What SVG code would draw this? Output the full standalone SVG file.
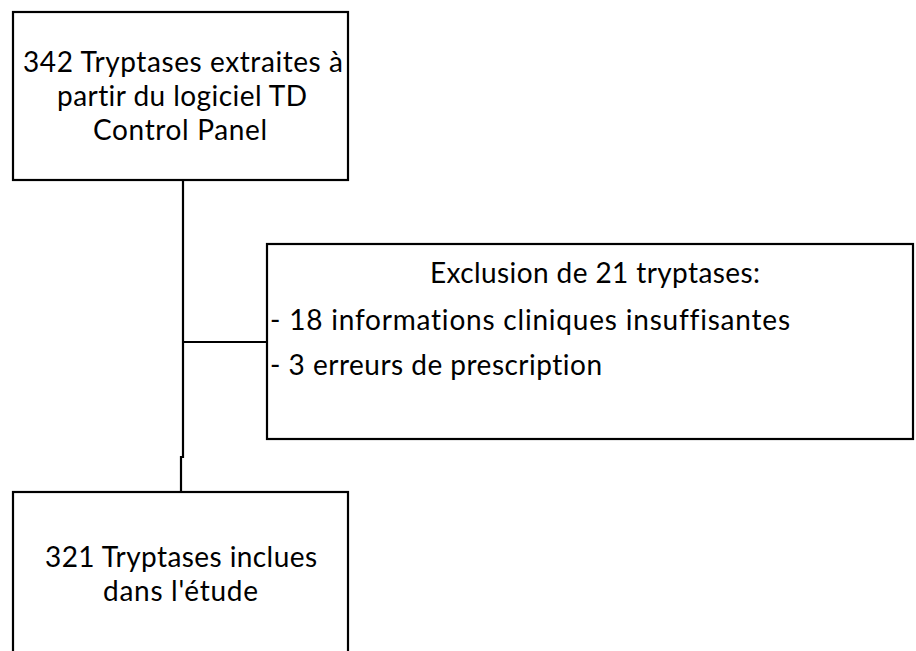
<svg xmlns="http://www.w3.org/2000/svg" width="916" height="651" viewBox="0 0 916 651">
<style>
.box{fill:#fff;stroke:#000;stroke-width:2.2}
.c{fill:none;stroke:#000;stroke-width:2.2}
text{font-family:Lato,"Open Sans","Liberation Sans",sans-serif;font-size:28px;fill:#000;font-variant-ligatures:none}
</style>
<rect width="916" height="651" fill="#fff"/>
<g id="connectors">
<path class="c" d="M183,180 V458"/>
<path class="c" d="M181,456 V492"/>
<path class="c" d="M183,342 H267"/>
</g>
<g id="node-extracted">
<rect class="box" x="13" y="12" width="335" height="168"/>
<text x="23" y="72" textLength="320">342 Tryptases extraites à</text>
<text x="57" y="106" textLength="250">partir du logiciel TD</text>
<text x="93" y="140" textLength="174">Control Panel</text>
</g>
<g id="node-exclusion">
<rect class="box" x="267" y="244" width="646" height="195"/>
<text x="430" y="283" textLength="330">Exclusion de 21 tryptases:</text>
<text x="270" y="330" textLength="520">- 18 informations cliniques insuffisantes</text>
<text x="270" y="375" textLength="332">- 3 erreurs de prescription</text>
</g>
<g id="node-included">
<rect class="box" x="13" y="492" width="335" height="200"/>
<text x="45" y="567" textLength="272">321 Tryptases inclues</text>
<text x="103" y="601" textLength="155">dans l'étude</text>
</g>
</svg>
